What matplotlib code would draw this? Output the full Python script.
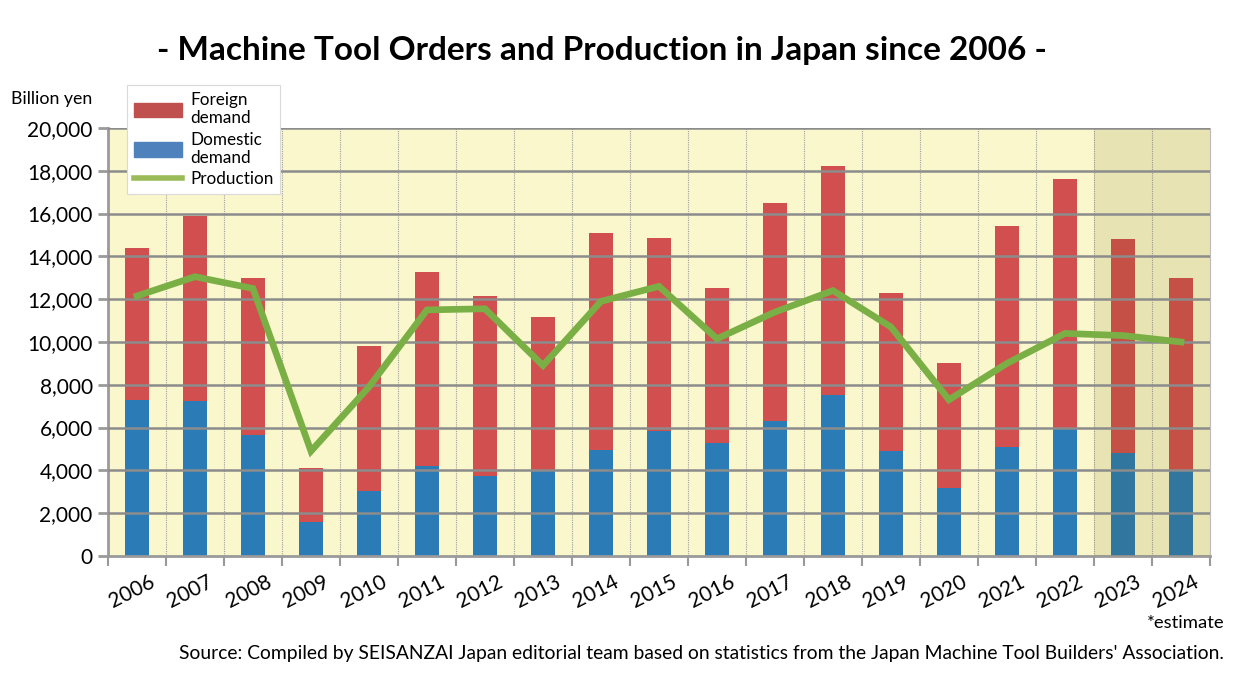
import numpy as np
import matplotlib
matplotlib.use("Agg")
import matplotlib.pyplot as plt
from matplotlib.patches import Patch
from matplotlib.lines import Line2D

plt.rcParams['font.family'] = ['Lato', 'DejaVu Sans']

# data (billion yen); 2023 and 2024 are estimates
years = ['2006', '2007', '2008', '2009', '2010', '2011', '2012', '2013', '2014', '2015',
         '2016', '2017', '2018', '2019', '2020', '2021', '2022', '2023', '2024']
domestic = [7300, 7250, 5650, 1570, 3050, 4200, 3750, 4000, 4950, 5850,
            5300, 6300, 7500, 4900, 3200, 5100, 6000, 4800, 4000]
total_orders = [14400, 15900, 13000, 4100, 9800, 13250, 12150, 11150, 15100, 14850,
                12500, 16500, 18200, 12300, 9000, 15400, 17600, 14800, 13000]
production = [12150, 13050, 12500, 4900, 7900, 11500, 11550, 8900, 11900, 12600,
              10150, 11400, 12400, 10700, 7300, 9000, 10400, 10300, 10000]
n_estimate = 2

foreign = [t - d for t, d in zip(total_orders, domestic)]
x = np.arange(len(years))

fig = plt.figure(figsize=(12.57, 6.97), dpi=100)
ax = fig.add_axes([0.0859, 0.2023, 0.8767, 0.6141])
ax.set_facecolor('#faf7cc')

ax.bar(x, domestic, width=0.4, color='#2a7bb6', zorder=2)
ax.bar(x, foreign, width=0.4, bottom=domestic, color='#d24f4f', zorder=2)

# estimate years shaded (darkens bars as well)
ax.axvspan(len(years) - n_estimate - 0.5, len(years) - 0.5, color='#6b5a00',
           alpha=0.12, lw=0, zorder=3)

ax.plot(x, production, color='#7aaf45', lw=4.8, solid_joinstyle='miter', zorder=5)

ax.set_xlim(-0.5, len(years) - 0.5)
ax.set_ylim(0, 20000)
ax.set_yticks(np.arange(0, 20001, 2000))
ax.set_yticklabels([f'{v:,}' for v in range(0, 20001, 2000)], fontsize=15)

# horizontal grid drawn over the bars
for v in range(2000, 20001, 2000):
    ax.axhline(v, color='#8c8c8c', lw=1.8, zorder=4)
# dotted category separators
for b in np.arange(0.5, len(years) - 0.5, 1):
    ax.axvline(b, color='#a0a0a0', lw=0.8, ls=(0, (1, 1)), zorder=1)

ax.set_xticks(np.arange(-0.5, len(years), 1))
ax.set_xticklabels([])
ax.tick_params(axis='x', length=7, width=1.5, color='#9a9a9a', direction='out')
ax.tick_params(axis='y', length=7, width=2, color='#9a9a9a', direction='out', pad=4)
for i, yr in enumerate(years):
    ax.text(i - 0.08, -1650, yr, rotation=27, ha='center', va='center', fontsize=15)

for s in ['left', 'bottom']:
    ax.spines[s].set_color('#9a9a9a')
    ax.spines[s].set_linewidth(2)
ax.spines['top'].set_visible(False)
ax.spines['right'].set_color('#bbbbbb')
ax.spines['right'].set_linewidth(0.8)

fig.text(0.479, 0.928, '- Machine Tool Orders and Production in Japan since 2006 -',
         ha='center', va='center', fontsize=24, fontweight='bold')
fig.text(0.009, 0.858, 'Billion yen', ha='left', va='center', fontsize=12.8)

handles = [Patch(color='#c0504d'), Patch(color='#4f81bd'),
           Line2D([0], [0], color='#9bbb59', lw=4)]
leg = fig.legend(handles, ['Foreign\ndemand', 'Domestic\ndemand', 'Production'],
                 loc='upper left', bbox_to_anchor=(0.101, 0.878), borderaxespad=0,
                 fontsize=12.3, frameon=True, fancybox=False, framealpha=1,
                 edgecolor='#d9d9d9', handlelength=2.8, handleheight=0.9,
                 labelspacing=0.3, borderpad=0.4, handletextpad=0.5)
leg.get_frame().set_linewidth(0.8)

fig.text(0.974, 0.106, '*estimate', ha='right', va='center', fontsize=13.3)
fig.text(0.974, 0.062, "Source: Compiled by SEISANZAI Japan editorial team based on statistics "
         "from the Japan Machine Tool Builders' Association.",
         ha='right', va='center', fontsize=13.9)

fig.savefig('out.png', dpi=100)
